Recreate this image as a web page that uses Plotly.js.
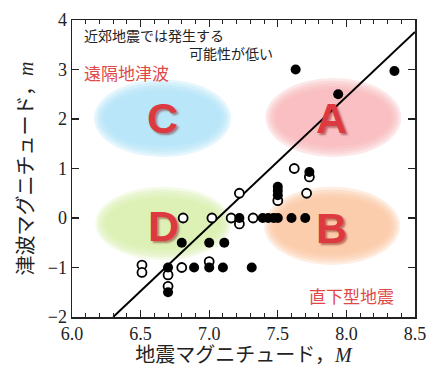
<!DOCTYPE html>
<html><head><meta charset="utf-8">
<script src="https://cdn.plot.ly/plotly-3.0.1.min.js"></script>
<style>html,body{margin:0;padding:0;background:#fff}#chart{width:433px;height:368px}</style>
</head><body><div id="chart"></div>
<script>
// Data
const filledM = [6.70, 6.70, 6.80, 6.89, 7.00, 7.00, 7.11, 7.10, 7.31, 7.22, 7.39, 7.43, 7.47, 7.50, 7.60, 7.70, 7.50, 7.50, 7.50, 7.73, 7.63, 7.94, 8.35];
const filledm = [-1.00, -1.50, -0.50, -1.00, -0.50, -1.00, -0.50, -1.00, -1.00, 0.00, 0.00, 0.00, 0.00, 0.00, 0.00, 0.00, 0.63, 0.55, 0.46, 0.93, 3.00, 2.50, 2.97];
const openM = [6.51, 6.51, 6.70, 6.70, 6.80, 6.81, 7.00, 7.02, 7.16, 7.22, 7.22, 7.32, 7.50, 7.62, 7.71, 7.73];
const openm = [-0.95, -1.10, -1.15, -1.38, -1.00, 0.00, -0.88, 0.00, 0.00, 0.50, -0.12, 0.00, 0.35, 1.00, 0.50, 0.83];
const fitM = [6.30, 8.50];
const fitm = [-2.00, 3.76];
const xTickVals = [6.0, 6.5, 7.0, 7.5, 8.0, 8.5];
const xTickText = ['6.0', '6.5', '7.0', '7.5', '8.0', '8.5'];
const yTickVals = [-2, -1, 0, 1, 2, 3, 4];

// Region ellipses (decoration): [x0,x1,y0,y1,color]
const regions = [
  [6.16, 7.16, 1.23, 2.80, '#ade0f7'],
  [7.41, 8.40, 1.23, 2.83, '#f7b2b7'],
  [6.17, 7.16, -0.85, 0.63, '#d8f0aa'],
  [7.40, 8.39, -0.95, 0.63, '#fbc49c']
];
const shapes = [];
regions.forEach(r => {
  const [x0, x1, y0, y1, c] = r;
  for (let k = 0; k < 5; k++) {
    const dx = 0.018 * k, dy = 0.055 * k;
    shapes.push({type: 'circle', xref: 'x', yref: 'y', x0: x0 + dx, x1: x1 - dx,
      y0: y0 + dy, y1: y1 - dy, fillcolor: c, opacity: 0.3, line: {width: 0}, layer: 'below'});
  }
});

const letterFont = {family: 'Liberation Sans, Arial, sans-serif', size: 43, color: '#dc3a40', weight: 'bold', shadow: '2px 2px 2px rgba(120,0,0,0.45)'};
const jp = 'Noto Sans CJK JP, sans-serif';
const annotations = [
  {x: 6.66, y: 2.02, text: 'C', font: letterFont},
  {x: 7.89, y: 2.02, text: 'A', font: letterFont},
  {x: 6.67, y: -0.17, text: 'D', font: letterFont},
  {x: 7.89, y: -0.2, text: 'B', font: letterFont},
  {x: 6.07, y: 3.70, text: '近郊地震では発生する', xanchor: 'left', font: {family: jp, size: 14, color: '#222'}},
  {x: 6.84, y: 3.33, text: '可能性が低い', xanchor: 'left', font: {family: jp, size: 14, color: '#222'}},
  {x: 6.07, y: 2.93, text: '遠隔地津波', xanchor: 'left', font: {family: jp, size: 17, color: '#e04848'}},
  {x: 7.71, y: -1.56, text: '直下型地震', xanchor: 'left', font: {family: jp, size: 17, color: '#e04848'}}
].map(a => Object.assign({xref: 'x', yref: 'y', showarrow: false}, a));

const traces = [
  {x: fitM, y: fitm, mode: 'lines', line: {color: '#000', width: 2}, hoverinfo: 'skip'},
  {x: openM, y: openm, mode: 'markers', marker: {symbol: 'circle', size: 9, color: '#fff', line: {color: '#000', width: 1.8}}},
  {x: filledM, y: filledm, mode: 'markers', marker: {symbol: 'circle', size: 10, color: '#000', line: {width: 0}}}
];

const serif = 'Liberation Serif, Times New Roman, serif';
const layout = {
  width: 433, height: 368,
  margin: {l: 72, r: 18, t: 20, b: 51},
  paper_bgcolor: '#fff', plot_bgcolor: 'rgba(0,0,0,0)',
  showlegend: false,
  font: {family: serif, color: '#222'},
  xaxis: {
    range: [6.0, 8.5], tickvals: xTickVals, ticktext: xTickText,
    ticks: 'inside', ticklen: 7, tickwidth: 1.2, tickcolor: '#222',
    minor: {dtick: 0.1, tick0: 6.0, ticks: 'inside', ticklen: 4, tickwidth: 1, tickcolor: '#222', showgrid: false},
    showline: true, linecolor: '#222', linewidth: 1.5, mirror: 'ticks',
    showgrid: false, zeroline: false,
    tickfont: {family: serif, size: 18, color: '#222'},
    title: {text: '地震マグニチュード，<i>M</i>', font: {family: serif + ', Noto Sans CJK JP', size: 20, color: '#222'}, standoff: 2}
  },
  yaxis: {
    range: [-2, 4], tickvals: yTickVals,
    ticks: 'inside', ticklen: 7, tickwidth: 1.2, tickcolor: '#222',
    showline: true, linecolor: '#222', linewidth: 1.5, mirror: 'ticks',
    showgrid: false, zeroline: false,
    tickfont: {family: serif, size: 18, color: '#222'},
    title: {text: '津波マグニチュード，<i>m</i>', font: {family: serif + ', Noto Sans CJK JP', size: 20, color: '#222'}, standoff: 8}
  },
  shapes: shapes,
  annotations: annotations
};
Plotly.newPlot('chart', traces, layout, {displayModeBar: false, staticPlot: true});
</script>
</body></html>
